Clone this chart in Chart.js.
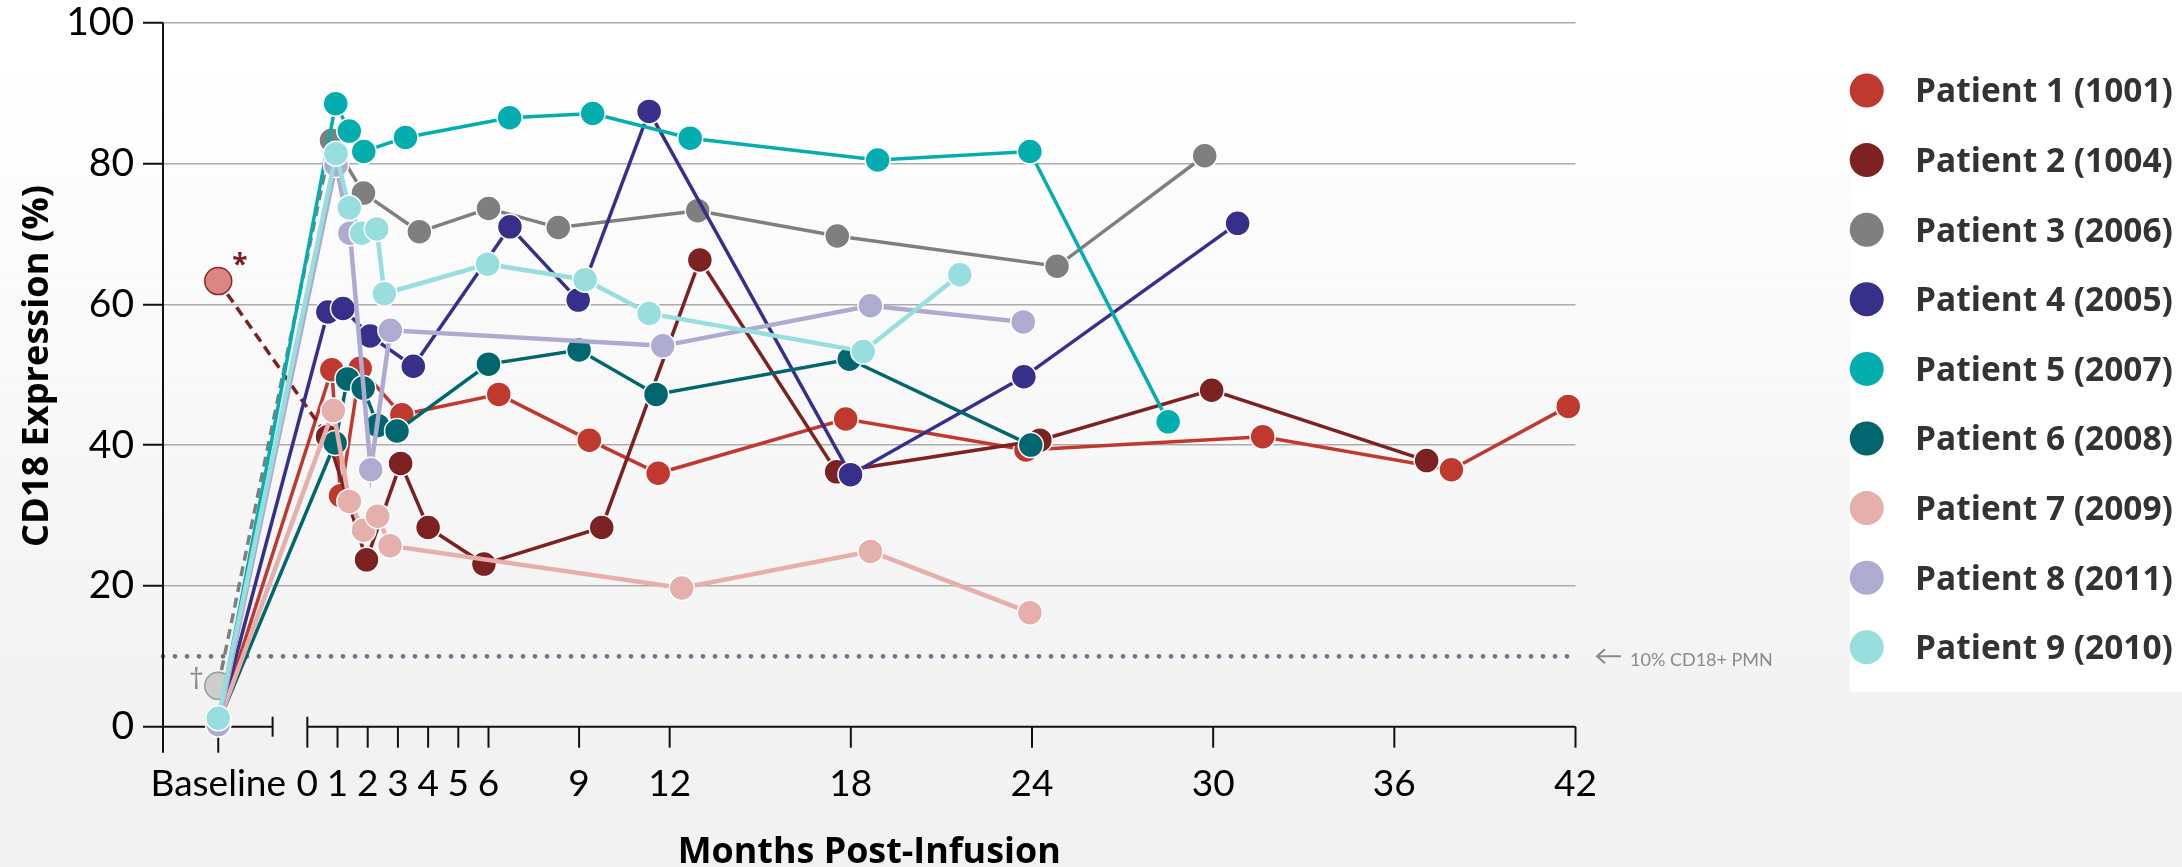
<!DOCTYPE html>
<html>
<head>
<meta charset="utf-8">
<title>CD18 Expression by Patient</title>
<script src="https://cdn.jsdelivr.net/npm/chart.js@4.4.1/dist/chart.umd.min.js"></script>
<style>
  html, body { margin: 0; padding: 0; background: #f2f2f2; }
  #wrap { position: relative; width: 2182px; height: 867px; }
  canvas { display: block; }
</style>
</head>
<body>
<div id="wrap"><canvas id="chart" width="2182" height="867"></canvas></div>
<script>
// ---- axis values -------------------------------------------------------
const BASELINE_X = -2.95;          // where the "Baseline" column sits, left of the axis break
const X_MIN = -4.78;
const X_MAX = 42;
const BREAK_END = -1.15;           // end of the short baseline axis segment
const MONTH_TICKS = [0, 1, 2, 3, 4, 5, 6, 9, 12, 18, 24, 30, 36, 42];
const Y_TICKS = [0, 20, 40, 60, 80, 100];
const THRESHOLD = 10;

// ---- patients ----------------------------------------------------------
const PATIENTS = [
  'Patient 1 (1001)', 'Patient 2 (1004)', 'Patient 3 (2006)',
  'Patient 4 (2005)', 'Patient 5 (2007)', 'Patient 6 (2008)',
  'Patient 7 (2009)', 'Patient 8 (2011)', 'Patient 9 (2010)'
];
const baselineValues = [0.5, 63.3, 5.8, 0.5, 0.8, 0.5, 0.5, 0.3, 1.2];
const baselineNotes  = ['', '*', '\u2020', '', '', '', '', '', ''];

const p1Months = [0.81, 1.1, 1.75, 3.13, 6.34, 9.34, 11.62, 17.83, 23.8, 31.64, 37.89, 41.76];
const p1Values = [50.7, 32.8, 50.9, 44.3, 47.2, 40.7, 36.0, 43.7, 39.3, 41.2, 36.5, 45.5];

const p2Months = [0.67, 1.96, 3.09, 4.0, 5.85, 9.75, 13.0, 17.53, 24.26, 29.95, 37.07];
const p2Values = [41.2, 23.7, 37.4, 28.3, 23.1, 28.3, 66.3, 36.2, 40.7, 47.8, 37.8];

const p3Months = [0.8, 1.86, 3.71, 6.0, 8.31, 12.93, 17.55, 24.83, 29.72];
const p3Values = [83.3, 75.8, 70.3, 73.6, 70.9, 73.3, 69.7, 65.4, 81.1];

const p4Months = [0.68, 1.18, 2.08, 3.51, 6.71, 8.97, 11.32, 17.99, 23.73, 30.81];
const p4Values = [58.9, 59.4, 55.5, 51.2, 71.0, 60.6, 87.4, 35.8, 49.7, 71.5];

const p5Months = [0.94, 1.39, 1.87, 3.25, 6.70, 9.45, 12.68, 18.89, 23.93, 28.51];
const p5Values = [88.5, 84.6, 81.7, 83.7, 86.5, 87.1, 83.6, 80.5, 81.7, 43.3];

const p6Months = [0.92, 1.33, 1.85, 2.33, 2.97, 6.0, 9.0, 11.55, 17.95, 23.96];
const p6Values = [40.3, 49.4, 48.1, 42.8, 42.0, 51.5, 53.5, 47.2, 52.2, 40.0];

const p7Months = [0.86, 1.39, 1.86, 2.33, 2.74, 12.4, 18.65, 23.93];
const p7Values = [44.9, 32.0, 27.9, 29.9, 25.7, 19.7, 24.9, 16.2];

const p8Months = [0.95, 1.41, 2.1, 2.75, 11.77, 18.65, 23.71];
const p8Values = [79.8, 70.1, 36.5, 56.3, 54.1, 59.8, 57.5];

const p9Months = [0.95, 1.39, 1.8, 2.3, 2.55, 5.97, 9.2, 11.32, 18.41, 21.61];
const p9Values = [81.4, 73.7, 70.1, 70.7, 61.5, 65.7, 63.5, 58.7, 53.3, 64.2];

const monthsByPatient = [p1Months, p2Months, p3Months, p4Months, p5Months, p6Months, p7Months, p8Months, p9Months];
const valuesByPatient = [p1Values, p2Values, p3Values, p4Values, p5Values, p6Values, p7Values, p8Values, p9Values];

// ---- styling -----------------------------------------------------------
const COLORS = ['#c0392f', '#7d2222', '#7f7f7f', '#37308a', '#04aeae', '#02666f', '#e5afab', '#aeabd1', '#98dede'];
const LINE_WIDTHS = [3.5, 3.5, 3.5, 3.5, 3.5, 3.5, 4.5, 4.5, 4.5];
const NOTE_STYLE = {
  '*':      { fill: '#dc8681', stroke: '#8a2a2a', text: '#7b2020', dx: 21.6, dy: -22.4, size: 28, weight: 700 },
  '\u2020': { fill: '#cdcdcd', stroke: '#9b9b9b', text: '#8c8c8c', dx: -22,  dy: -8,    size: 30, weight: 400 }
};
const FONT_TICK = 'Lato, "Open Sans", sans-serif';
const FONT_BOLD = '"Open Sans", "DejaVu Sans", sans-serif';

const datasets = PATIENTS.map((name, i) => {
  const note = baselineNotes[i];
  const ns = note ? NOTE_STYLE[note] : null;
  const points = [{ x: BASELINE_X, y: baselineValues[i] }]
    .concat(monthsByPatient[i].map((m, j) => ({ x: m, y: valuesByPatient[i][j] })));
  return {
    label: name,
    data: points,
    showLine: true,
    tension: 0,
    borderColor: COLORS[i],
    borderWidth: LINE_WIDTHS[i],
    pointRadius: c => (c.dataIndex === 0 && ns) ? 13.5 : 12.5,
    pointBackgroundColor: c => (c.dataIndex === 0 && ns) ? ns.fill : COLORS[i],
    pointBorderColor: c => (c.dataIndex === 0 && ns) ? ns.stroke : '#ffffff',
    pointBorderWidth: 1.5,
    segment: {
      borderDash: c => (c.p0DataIndex === 0 && ns) ? [10, 6] : undefined
    },
    clip: false,
    order: PATIENTS.length - i
  };
});

function fitSize(ctx, text, weight, family, width) {
  ctx.font = `${weight} 100px ${family}`;
  return 100 * width / ctx.measureText(text).width;
}

function fillCentered(ctx, text, cx, cy) {
  const m = ctx.measureText(text);
  ctx.textAlign = 'center';
  ctx.textBaseline = 'alphabetic';
  ctx.fillText(text, cx, cy + (m.actualBoundingBoxAscent - m.actualBoundingBoxDescent) / 2);
}

// page background and legend panel
const backdrop = {
  id: 'backdrop',
  beforeDraw(chart) {
    const { ctx, width, height } = chart;
    ctx.save();
    const g = ctx.createLinearGradient(0, 0, 0, height);
    g.addColorStop(0, '#ffffff');
    g.addColorStop(0.05, '#ffffff');
    g.addColorStop(0.85, '#f2f2f2');
    g.addColorStop(1, '#f2f2f2');
    ctx.fillStyle = g;
    ctx.fillRect(0, 0, width, height);
    ctx.fillStyle = '#ffffff';
    ctx.fillRect(1850, 40, width - 1850, 652);
    ctx.restore();
  }
};

// broken x axis, y axis line, threshold line
const axes = {
  id: 'axes',
  beforeDatasetsDraw(chart) {
    const { ctx, scales: { x, y } } = chart;
    const y0 = y.getPixelForValue(0);
    ctx.save();

    // threshold
    const yt = y.getPixelForValue(THRESHOLD);
    ctx.strokeStyle = '#6a778b';
    ctx.lineWidth = 4.8;
    ctx.lineCap = 'round';
    ctx.setLineDash([0, 12]);
    ctx.beginPath();
    ctx.moveTo(x.getPixelForValue(X_MIN), yt);
    ctx.lineTo(x.getPixelForValue(X_MAX), yt);
    ctx.stroke();
    ctx.setLineDash([]);

    ctx.strokeStyle = '#111111';
    ctx.lineWidth = 2;
    ctx.lineCap = 'butt';
    const line = (x1, y1, x2, y2) => { ctx.beginPath(); ctx.moveTo(x1, y1); ctx.lineTo(x2, y2); ctx.stroke(); };

    const xl = x.getPixelForValue(X_MIN);
    const xb = x.getPixelForValue(BREAK_END);
    const xz = x.getPixelForValue(0);
    const xr = x.getPixelForValue(X_MAX);
    line(xl, y.top, xl, y0 + 26);
    line(xl, y0, xb, y0);
    line(xb, y0 - 10, xb, y0 + 10);
    line(xz, y0, xr, y0);
    line(xz, y0 - 10, xz, y0);
    MONTH_TICKS.forEach(m => {
      const px = x.getPixelForValue(m);
      line(px, y0, px, y0 + 21);
    });
    const xbase = x.getPixelForValue(BASELINE_X);
    line(xbase, y0, xbase, y0 + 26);

    // tick labels
    ctx.fillStyle = '#000000';
    ctx.font = `400 37px ${FONT_TICK}`;
    ctx.textAlign = 'center';
    ctx.textBaseline = 'alphabetic';
    ctx.fillText('Baseline', xbase, 796);
    MONTH_TICKS.forEach(m => ctx.fillText(String(m), x.getPixelForValue(m), 796));

    ctx.restore();
  }
};

// baseline footnote marks, threshold label, axis titles, legend
const labels = {
  id: 'labels',
  afterDatasetsDraw(chart) {
    const { ctx, scales: { x, y } } = chart;
    ctx.save();

    datasets.forEach((ds, i) => {
      const note = baselineNotes[i];
      if (!note) return;
      const ns = NOTE_STYLE[note];
      const pt = chart.getDatasetMeta(i).data[0];
      ctx.fillStyle = ns.text;
      ctx.font = `${ns.weight} ${ns.size}px ${FONT_BOLD}`;
      fillCentered(ctx, note, pt.x + ns.dx, pt.y + ns.dy);
    });

    // threshold note
    const yt = y.getPixelForValue(THRESHOLD);
    ctx.strokeStyle = '#8a8a8a';
    ctx.lineWidth = 2;
    ctx.beginPath();
    ctx.moveTo(1597, yt); ctx.lineTo(1621, yt);
    ctx.moveTo(1605, yt - 7); ctx.lineTo(1597, yt); ctx.lineTo(1605, yt + 7);
    ctx.stroke();
    ctx.fillStyle = '#8a8a8a';
    ctx.font = `400 18px ${FONT_TICK}`;
    ctx.textAlign = 'left';
    ctx.textBaseline = 'alphabetic';
    ctx.fillText('10% CD18+ PMN', 1630, yt + 9.5);

    // axis titles
    ctx.fillStyle = '#000000';
    const yTitle = 'CD18 Expression (%)';
    ctx.font = `700 ${fitSize(ctx, yTitle, 700, FONT_BOLD, 362)}px ${FONT_BOLD}`;
    ctx.save();
    ctx.translate(47.5, 366);
    ctx.rotate(-Math.PI / 2);
    ctx.textAlign = 'center';
    ctx.textBaseline = 'alphabetic';
    ctx.fillText(yTitle, 0, 0);
    ctx.restore();

    const xTitle = 'Months Post-Infusion';
    ctx.font = `700 ${fitSize(ctx, xTitle, 700, FONT_BOLD, 383)}px ${FONT_BOLD}`;
    ctx.textAlign = 'center';
    ctx.textBaseline = 'alphabetic';
    ctx.fillText(xTitle, (x.left + x.right) / 2, 863);

    // legend
    const size = fitSize(ctx, PATIENTS[0], 700, FONT_BOLD, 258);
    ctx.font = `700 ${size}px ${FONT_BOLD}`;
    ctx.textAlign = 'left';
    PATIENTS.forEach((name, i) => {
      const cy = 90.5 + i * 69.6;
      ctx.fillStyle = COLORS[i];
      ctx.beginPath();
      ctx.arc(1866.7, cy, 17, 0, Math.PI * 2);
      ctx.fill();
      ctx.fillStyle = '#333333';
      ctx.fillText(name, 1915, cy + size * 0.357);
    });

    ctx.restore();
  }
};

new Chart(document.getElementById('chart'), {
  type: 'scatter',
  data: { datasets },
  options: {
    responsive: false,
    animation: false,
    devicePixelRatio: 1,
    events: [],
    layout: { padding: { left: 0, top: 22.7, right: 606.5, bottom: 0 } },
    plugins: { legend: { display: false }, tooltip: { enabled: false } },
    scales: {
      x: {
        type: 'linear',
        min: X_MIN,
        max: X_MAX,
        grid: { display: false },
        border: { display: false },
        ticks: { display: false },
        afterFit(s) { s.height = 140.3; s.paddingLeft = 0; s.paddingRight = 0; }
      },
      y: {
        min: 0,
        max: 100,
        afterBuildTicks(s) { s.ticks = Y_TICKS.map(v => ({ value: v })); },
        afterFit(s) { s.width = 163; s.paddingTop = 0; s.paddingBottom = 0; },
        border: { display: false },
        grid: {
          color: c => (c.tick && c.tick.value === 0) ? 'rgba(0,0,0,0)' : '#ababab',
          lineWidth: 1.5,
          drawTicks: true,
          tickLength: 20,
          tickColor: '#111111',
          tickWidth: 2
        },
        ticks: {
          font: { family: FONT_TICK, size: 39, lineHeight: 1 },
          color: '#000000',
          padding: 9
        }
      }
    }
  },
  plugins: [backdrop, axes, labels]
});
</script>
</body>
</html>
